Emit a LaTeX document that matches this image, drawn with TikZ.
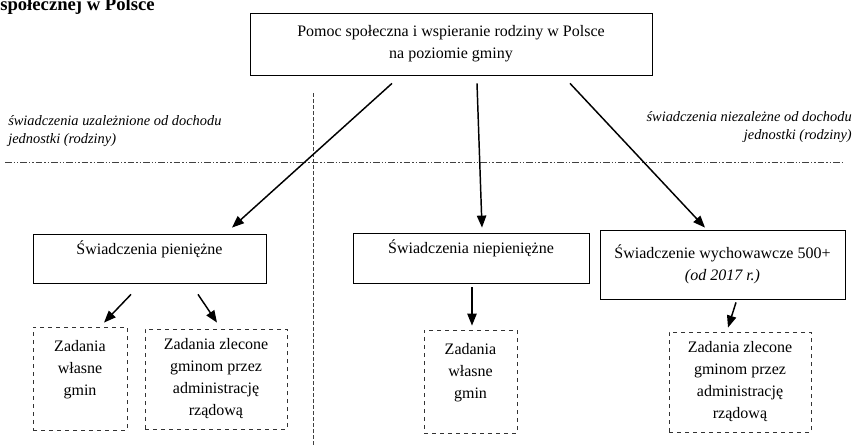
\documentclass[tikz,border=0pt]{standalone}
\usepackage{fontspec}
\setmainfont{Liberation Serif}
\usetikzlibrary{arrows.meta,positioning,calc}

\begin{document}
\begin{tikzpicture}[x=0.75pt, y=-0.75pt,
    block/.style={rectangle, draw, line width=0.6pt, align=center, inner sep=0pt, font=\fontsize{12}{16.5}\selectfont},
    task/.style={rectangle, draw=black!80, dashed, line width=0.6pt, align=center, inner sep=0pt, font=\fontsize{12}{16.5}\selectfont},
    note/.style={inner sep=0pt, font=\fontsize{10.8}{13.5}\selectfont\itshape},
    arrow/.style={-{Triangle[length=9pt,width=7pt]}, line width=1.1pt},
    divider/.style={black!75, line width=0.6pt}
]
\useasboundingbox (0,0) rectangle (856,446);

\node[anchor=base west, inner sep=0pt, font=\fontsize{14}{16}\selectfont\bfseries] (title) at (0,10) {społecznej w Polsce};

\node[block, minimum width=301.5pt, minimum height=46.5pt] (top) at (451,44) {Pomoc społeczna i wspieranie rodziny w Polsce\\na poziomie gminy};

% podzial na dwie grupy
\coordinate (vtop) at (313,93);
\coordinate (vbot) at (313,446);
\coordinate (hleft) at (5,162);
\coordinate (hright) at (845,162);
\draw[divider, dash pattern=on 3pt off 1.5pt] (vtop) -- (vbot);
\draw[divider, dash pattern=on 5pt off 1.5pt on 1pt off 1.5pt on 1pt off 1.5pt] (hleft) -- (hright);

\node[note, anchor=west, align=left] (dep) at (8,131) {świadczenia uzależnione od dochodu\\jednostki (rodziny)};
\node[note, anchor=east, align=right] (indep) at (852,127) {świadczenia niezależne od dochodu\\jednostki (rodziny)};

\node[block, minimum width=174.75pt, minimum height=36.75pt] (cash) at (149.5,258.5) {Świadczenia pieniężne\\\mbox{}};
\node[block, minimum width=177pt, minimum height=37.5pt] (noncash) at (471,258) {Świadczenia niepieniężne\\\mbox{}};
\node[block, minimum width=183.75pt, minimum height=51.75pt] (child) at (722.5,264.5) {Świadczenie wychowawcze 500+\\\textit{(od 2017 r.)}};

\node[task, minimum width=70.5pt, minimum height=77.25pt] (own1) at (80,378.5) {Zadania\\własne\\gmin\\\mbox{}};
\node[task, minimum width=106.5pt, minimum height=75pt] (comm1) at (216,379) {Zadania zlecone\\gminom przez\\administrację\\rządową};
\node[task, minimum width=69.75pt, minimum height=77.25pt] (own2) at (470.5,381.5) {Zadania\\własne\\gmin\\\mbox{}};
\node[task, minimum width=106.5pt, minimum height=75pt] (comm2) at (740,382) {Zadania zlecone\\gminom przez\\administrację\\rządową};

\draw[arrow] ([shift={(-59,8)}]top.south) -- ([shift={(82.5,-6)}]cash.north);
\draw[arrow] ([shift={(26,8)}]top.south) -- ([shift={(11,-5)}]noncash.north);
\draw[arrow] ([shift={(119,8)}]top.south) -- ([shift={(-17.5,-2)}]child.north);

\draw[arrow] ([shift={(-18.5,11)}]cash.south) -- ([shift={(24,-4)}]own1.north);
\draw[arrow] ([shift={(48.5,11)}]cash.south) -- ([shift={(1,-6)}]comm1.north);
\draw[arrow] ([shift={(1,4)}]noncash.south) -- ([shift={(1.5,-4)}]own2.north);
\draw[arrow] ([shift={(13.5,3)}]child.south) -- ([shift={(-12,-4)}]comm2.north);

\end{tikzpicture}
\end{document}
